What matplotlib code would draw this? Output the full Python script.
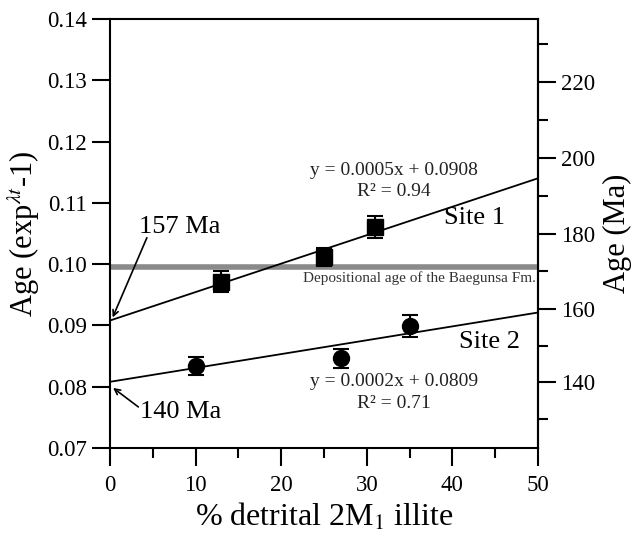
import numpy as np
import matplotlib
matplotlib.use('Agg')
import matplotlib.pyplot as plt
from matplotlib.ticker import MultipleLocator, FixedLocator

plt.rcParams['font.family'] = ['Liberation Serif', 'DejaVu Serif']
plt.rcParams['mathtext.fontset'] = 'stix'

###DATA
site1_x = [13, 25, 31]
site1_y = [0.0971, 0.1012, 0.1060]
site1_err = [0.0017, 0.0015, 0.0018]
site2_x = [10, 27, 35]
site2_y = [0.0834, 0.0846, 0.0899]
site2_err = [0.0015, 0.0015, 0.0018]
fit1 = (0.000464, 0.0908)   # slope, intercept as drawn
fit2 = (0.000226, 0.0808)
dep_age = 0.0996
lam = 5.543e-10  # K decay constant, 1/yr

def to_ma(y):
    y = np.asarray(y, dtype=float)
    return np.log1p(np.clip(y, -0.99, None)) / lam / 1e6

def from_ma(t):
    t = np.asarray(t, dtype=float)
    return np.expm1(t * 1e6 * lam)

fig = plt.figure(figsize=(6.4, 5.33), dpi=100)
ax = fig.add_axes([0.172, 0.1595, 0.6686, 0.805])

###FIT LINES
xx = np.array([0, 50])
ax.plot(xx, fit1[0] * xx + fit1[1], color='black', lw=1.3, zorder=3)
ax.plot(xx, fit2[0] * xx + fit2[1], color='black', lw=1.3, zorder=3)

###DEPOSITIONAL AGE
ax.axhline(dep_age, color='#8a8a8a', lw=4, zorder=2)
ax.text(49.7, dep_age - 0.0007, 'Depositional age of the Baegunsa Fm.', ha='right', va='top',
        fontsize=11, color='#333333')

###POINTS
ax.errorbar(site1_x, site1_y, yerr=site1_err, fmt='s', color='black', ms=11,
            capsize=6, elinewidth=1.5, capthick=1.5, zorder=4)
ax.errorbar(site2_x, site2_y, yerr=site2_err, fmt='o', color='black', ms=11.5,
            capsize=6, elinewidth=1.5, capthick=1.5, zorder=4)

###TEXT
ax.text(33.2, 0.1153, 'y = 0.0005x + 0.0908', ha='center', va='center', fontsize=14, color='#222222')
ax.text(33.2, 0.1118, 'R² = 0.94', ha='center', va='center', fontsize=14, color='#222222')
ax.text(33.2, 0.0808, 'y = 0.0002x + 0.0809', ha='center', va='center', fontsize=14, color='#222222')
ax.text(33.2, 0.0772, 'R² = 0.71', ha='center', va='center', fontsize=14, color='#222222')
ax.text(42.6, 0.1075, 'Site 1', ha='center', va='center', fontsize=19)
ax.text(44.3, 0.0873, 'Site 2', ha='center', va='center', fontsize=19)

ax.text(8.1, 0.1061, '157 Ma', ha='center', va='center', fontsize=19)
ax.annotate('', xy=(0.3, 0.0913), xytext=(4.3, 0.1043),
            arrowprops=dict(arrowstyle='->', color='black', lw=1.2, shrinkA=0, shrinkB=0))
ax.text(8.3, 0.0759, '140 Ma', ha='center', va='center', fontsize=19)
ax.annotate('', xy=(0.35, 0.0798), xytext=(3.3, 0.0767),
            arrowprops=dict(arrowstyle='->', color='black', lw=1.2, shrinkA=0, shrinkB=0))

###AXES
ax.set_xlim(0, 50)
ax.set_ylim(0.07, 0.14)
ax.xaxis.set_major_locator(MultipleLocator(10))
ax.xaxis.set_minor_locator(MultipleLocator(5))
ax.yaxis.set_major_locator(MultipleLocator(0.01))
ax.yaxis.set_major_formatter(plt.FormatStrFormatter('%.2f'))
ax.tick_params(axis='both', which='major', direction='out', length=13, width=1.5, labelsize=16.5)
ax.tick_params(axis='x', which='major', pad=6.5)
ax.tick_params(axis='x', which='minor', direction='out', length=7, width=1.5)
ax.tick_params(top=False, right=False)
for s in ax.spines.values():
    s.set_linewidth(1.5)

ax.set_xlabel('% detrital 2M$_1$ illite', fontsize=23, labelpad=4)
ax.set_ylabel('Age (exp$^{\\lambda t}$-1)', fontsize=22, labelpad=4)

sec = ax.secondary_yaxis('right', functions=(to_ma, from_ma))
sec.yaxis.set_major_locator(FixedLocator([140, 160, 180, 200, 220]))
sec.yaxis.set_minor_locator(FixedLocator([130, 150, 170, 190, 210, 230]))
sec.tick_params(which='major', direction='out', length=13, width=1.5, labelsize=16.5)
sec.tick_params(which='minor', direction='out', length=7, width=1.5)
sec.spines['right'].set_linewidth(1.5)
sec.set_ylabel('Age (Ma)', fontsize=22, labelpad=6)

fig.savefig('out.png', dpi=100)
